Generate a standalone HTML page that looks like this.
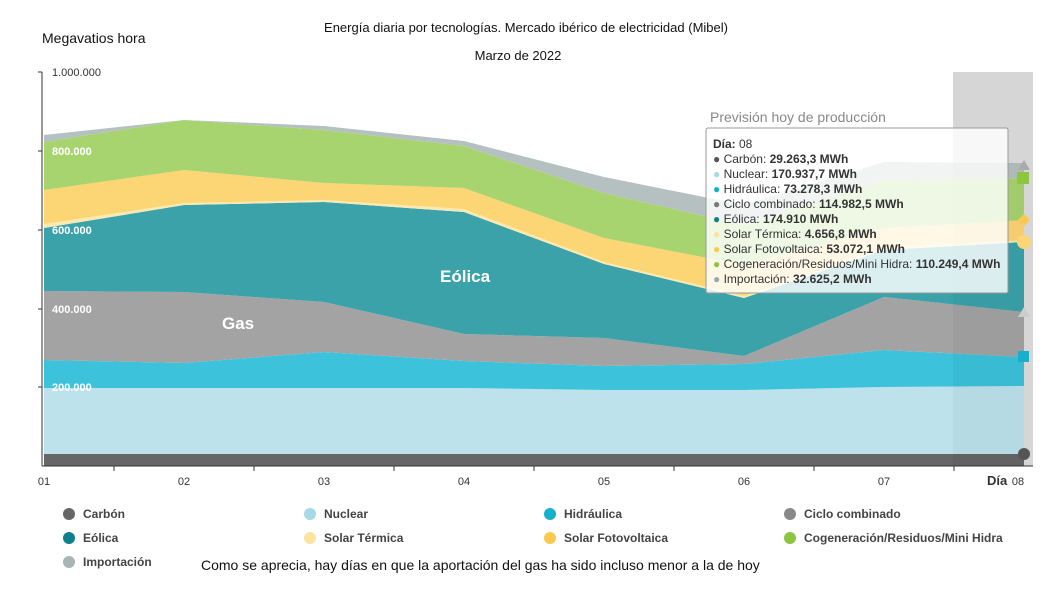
<!DOCTYPE html>
<html><head><meta charset="utf-8"><style>
body{margin:0;background:#fff;width:1040px;height:590px;overflow:hidden;font-family:"Liberation Sans",sans-serif}
</style></head><body>
<svg id="s" width="1040" height="590" xmlns="http://www.w3.org/2000/svg" style="position:absolute;left:0;top:0">
<rect x="953" y="72" width="80" height="394" fill="#dedede"/>
<g id="areas"></g>
<rect x="953" y="72" width="80" height="394" fill="#000" opacity="0.035"/>
<line x1="42" y1="72" x2="42" y2="466" stroke="#333" stroke-width="1"/>
<g stroke="#333"><line x1="38" y1="72" x2="42" y2="72"/><line x1="38" y1="151" x2="42" y2="151"/><line x1="38" y1="230" x2="42" y2="230"/><line x1="38" y1="309" x2="42" y2="309"/><line x1="38" y1="387" x2="42" y2="387"/></g>
<line x1="42" y1="466" x2="1033" y2="466" stroke="#333"/>
<g stroke="#333"><line x1="114" y1="466" x2="114" y2="471"/><line x1="254" y1="466" x2="254" y2="471"/><line x1="394" y1="466" x2="394" y2="471"/><line x1="534" y1="466" x2="534" y2="471"/><line x1="674" y1="466" x2="674" y2="471"/><line x1="814" y1="466" x2="814" y2="471"/><line x1="954" y1="466" x2="954" y2="471"/></g>
<g font-size="11" fill="#333"><text x="52" y="76">1.000.000</text></g>
<g font-size="11" fill="#fff" font-weight="bold"><text x="52" y="155">800.000</text><text x="52" y="234">600.000</text><text x="52" y="313">400.000</text><text x="52" y="391">200.000</text></g>
<g font-size="11" fill="#333" text-anchor="middle"><text x="44" y="485">01</text><text x="184" y="485">02</text><text x="324" y="485">03</text><text x="464" y="485">04</text><text x="604" y="485">05</text><text x="744" y="485">06</text><text x="884" y="485">07</text><text x="1018" y="485">08</text></g>
<text x="987" y="485" font-size="13" font-weight="bold" fill="#333">Día</text>
<text x="222" y="329" font-size="17" font-weight="bold" fill="#fff">Gas</text>
<text x="440" y="282" font-size="17" font-weight="bold" fill="#fff">Eólica</text>
<text x="710" y="122" font-size="14" fill="#888">Previsión hoy de producción</text>
<text x="42" y="43" font-size="14" fill="#111">Megavatios hora</text>
<text x="526" y="32" font-size="13" fill="#111" text-anchor="middle">Energía diaria por tecnologías. Mercado ibérico de electricidad (Mibel)</text>
<text x="518" y="60" font-size="13" fill="#111" text-anchor="middle">Marzo de 2022</text>
<g>
<path d="M1018 170 L1024 160 L1030 170Z" fill="#aaa"/><rect x="1017" y="172" width="12" height="12" fill="#8cc63f"/>
<path d="M1024 214 L1030 220 L1024 226 L1018 220Z" fill="#fcc94f"/>
<circle cx="1024" cy="242" r="7" fill="#fcd574"/><rect x="1018" y="351" width="11" height="11" fill="#16b0cc"/>
<circle cx="1024" cy="454" r="6" fill="#555"/><path d="M1018 317 L1024 307 L1030 317Z" fill="#ccc"/>
</g>
<rect x="706" y="128" width="302" height="165" fill="#fff" fill-opacity=".82" stroke="#999" rx="2"/>
<g font-size="12" fill="#333">
<text x="713" y="148"><tspan font-weight="bold">Día:</tspan> 08</text>
<text x="713" y="163"><tspan fill="#555">●</tspan> Carbón: <tspan font-weight="bold">29.263,3 MWh</tspan></text>
<text x="713" y="178"><tspan fill="#a7d8e8">●</tspan> Nuclear: <tspan font-weight="bold">170.937,7 MWh</tspan></text>
<text x="713" y="193"><tspan fill="#16b0cc">●</tspan> Hidráulica: <tspan font-weight="bold">73.278,3 MWh</tspan></text>
<text x="713" y="208"><tspan fill="#777">●</tspan> Ciclo combinado: <tspan font-weight="bold">114.982,5 MWh</tspan></text>
<text x="713" y="223"><tspan fill="#0f7f8c">●</tspan> Eólica: <tspan font-weight="bold">174.910 MWh</tspan></text>
<text x="713" y="238"><tspan fill="#fbe3a0">●</tspan> Solar Térmica: <tspan font-weight="bold">4.656,8 MWh</tspan></text>
<text x="713" y="253"><tspan fill="#fcc94f">●</tspan> Solar Fotovoltaica: <tspan font-weight="bold">53.072,1 MWh</tspan></text>
<text x="713" y="268"><tspan fill="#8cc63f">●</tspan> Cogeneración/Residuos/Mini Hidra: <tspan font-weight="bold">110.249,4 MWh</tspan></text>
<text x="713" y="283"><tspan fill="#9aa">●</tspan> Importación: <tspan font-weight="bold">32.625,2 MWh</tspan></text>
</g>
<g font-size="12" font-weight="bold" fill="#444">
<circle cx="69" cy="514" r="6" fill="#666"/><text x="83" y="518">Carbón</text>
<circle cx="310" cy="514" r="6" fill="#a7d8e8"/><text x="324" y="518">Nuclear</text>
<circle cx="550" cy="514" r="6" fill="#16b0cc"/><text x="564" y="518">Hidráulica</text>
<circle cx="790" cy="514" r="6" fill="#888"/><text x="804" y="518">Ciclo combinado</text>
<circle cx="69" cy="538" r="6" fill="#0f7f8c"/><text x="83" y="542">Eólica</text>
<circle cx="310" cy="538" r="6" fill="#fbe3a0"/><text x="324" y="542">Solar Térmica</text>
<circle cx="550" cy="538" r="6" fill="#fcc94f"/><text x="564" y="542">Solar Fotovoltaica</text>
<circle cx="790" cy="538" r="6" fill="#8cc63f"/><text x="804" y="542">Cogeneración/Residuos/Mini Hidra</text>
<circle cx="69" cy="562" r="6" fill="#aab4b4"/><text x="83" y="566">Importación</text>
</g>
<text x="201" y="570" font-size="14" fill="#111">Como se aprecia, hay días en que la aportación del gas ha sido incluso menor a la de hoy</text>
</svg>
<script>
var xs=[44,184,324,464,604,744,884,1024];
var L=[
[466,466,466,466,466,466,466,466],
[454,454,454,454,454,454,454,454],
[388,388,388,388,390,390,387,386],
[360,363,352,361,366,364,350,357],
[291,292,302,334,338,356,297,312],
[228,205,202,212,264,298,250,242],
[224,203,200,209,262,296,248,240],
[190,170,183,188,238,265,228,220],
[142,120,130,146,193,225,180,178],
[135,120,126,141,177,205,162,163]];
var C=["#666","#bde2ec","#3cc3db","#a3a3a3","#3ba2aa","#fbe9b0","#fcd574","#a8d46f","#b5c0c0"];
var g=document.getElementById("areas"),h="";
for(var i=0;i<9;i++){var p=[];for(var j=0;j<8;j++)p.push(xs[j]+","+L[i+1][j]);for(var j=7;j>=0;j--)p.push(xs[j]+","+L[i][j]);h+='<polygon points="'+p.join(" ")+'" fill="'+C[i]+'"/>';}
g.innerHTML=h;
</script>
</body></html>
